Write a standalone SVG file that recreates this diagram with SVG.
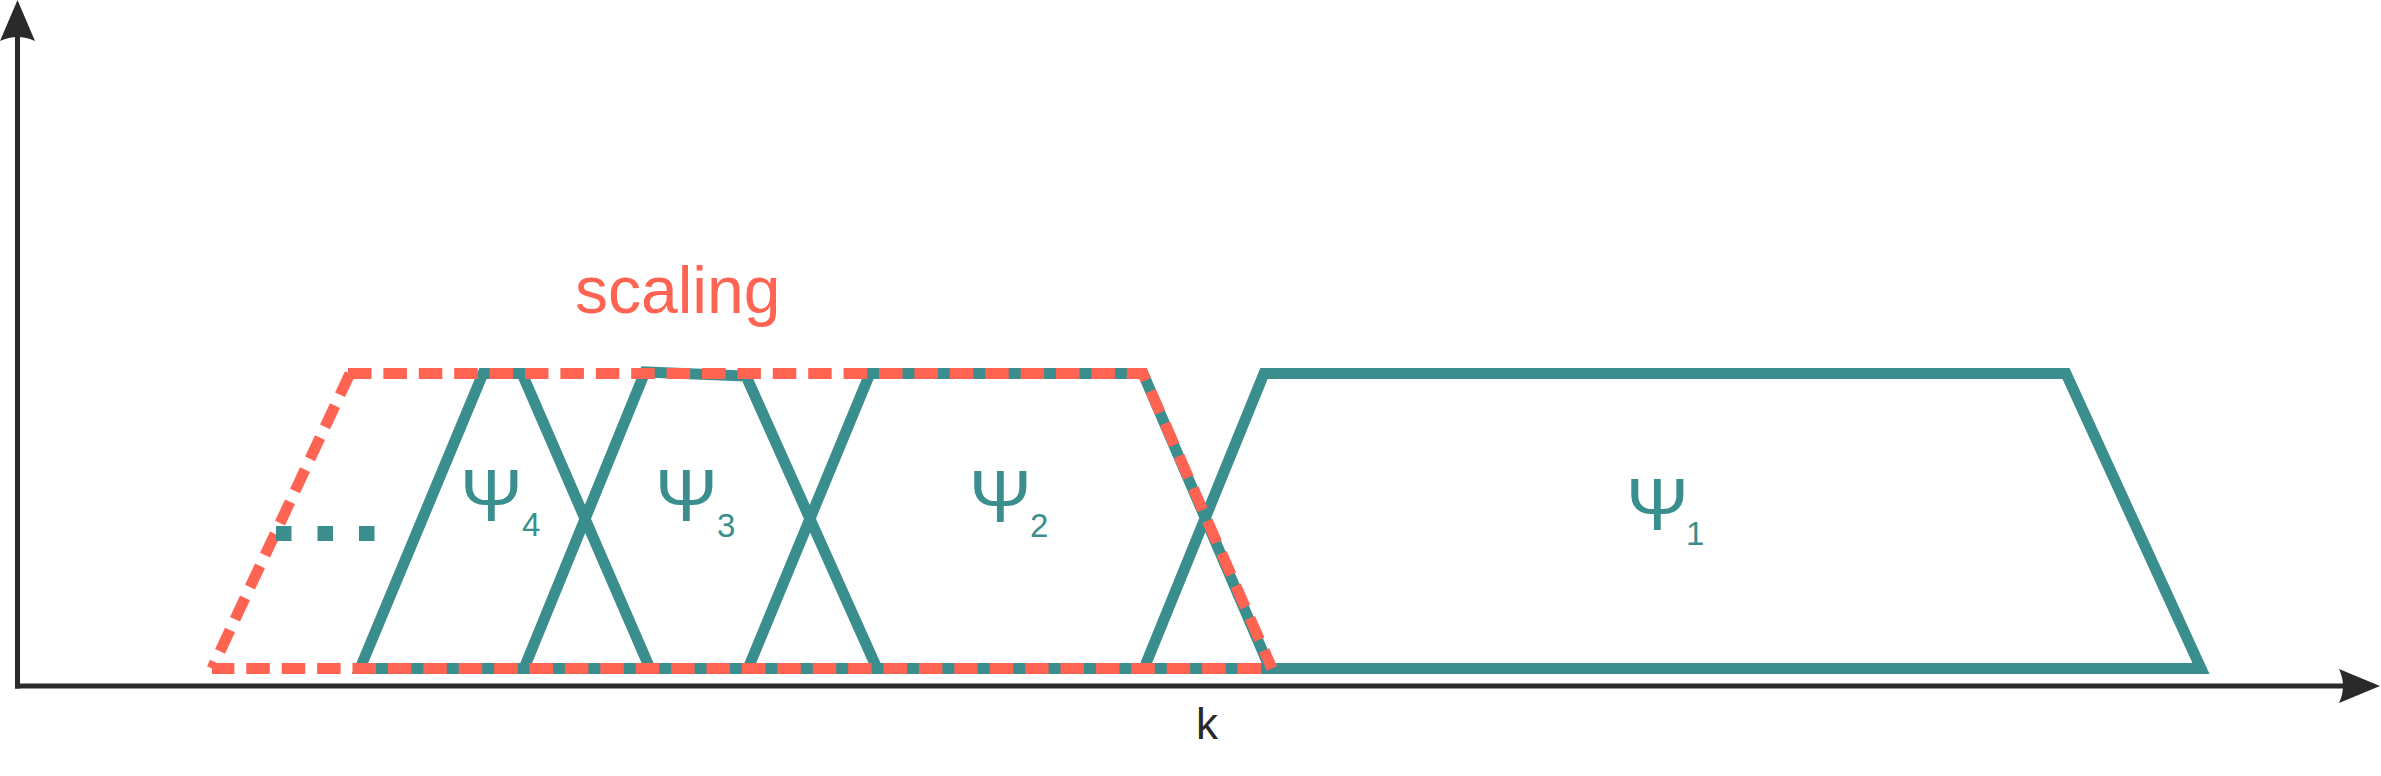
<svg xmlns="http://www.w3.org/2000/svg" width="2381" height="776" viewBox="0 0 2381 776">
<style>
.teal{fill:none;stroke:#3a8f8e;stroke-width:11;stroke-linejoin:miter;stroke-miterlimit:10}
.red{fill:none;stroke:#ff6352;stroke-width:11;stroke-dasharray:23.5 11.9}
.axis{fill:none;stroke:#2a2a2a;stroke-width:5}
.head{fill:#2a2a2a}
.psi{font-family:"Liberation Sans",Arial,sans-serif;font-size:75px;fill:#3a8f8e}
.sub{font-family:"Liberation Sans",Arial,sans-serif;font-size:33px;fill:#3a8f8e}
</style>
<rect width="2381" height="776" fill="#ffffff"/>
<g id="axes">
<line class="axis" x1="17.5" y1="36" x2="17.5" y2="688.5"/>
<line class="axis" x1="15" y1="686" x2="2344" y2="686"/>
<path class="head" d="M17.5,0 L35,41 Q17.5,33 0,41 Z"/>
<path class="head" d="M2380,686 L2339,703 Q2347,686 2339,669 Z"/>
<text x="1196" y="739" font-family="Liberation Sans, Arial, sans-serif" font-size="44" fill="#2a2a2a">k</text>
</g>
<g id="psi4">
<polygon class="teal" points="360,668.5 483,373.5 522,373.5 650,668.5"/>
<text class="psi" x="460" y="521">Ψ</text><text class="sub" x="522" y="536">4</text>
</g>
<g id="psi3">
<polygon class="teal" points="524,668.5 645,372 746,376 877,668.5"/>
<text class="psi" x="655" y="521">Ψ</text><text class="sub" x="717" y="537">3</text>
</g>
<g id="psi2">
<polygon class="teal" points="748,668.5 870,373.5 1143,373.5 1270,668.5"/>
<text class="psi" x="969" y="522">Ψ</text><text class="sub" x="1030" y="537">2</text>
</g>
<g id="psi1">
<polygon class="teal" points="1144,668.5 1264,373.5 2066,373.5 2201,668.5"/>
<text class="psi" x="1626" y="530">Ψ</text><text class="sub" x="1686" y="545">1</text>
</g>
<g id="scaling">
<path class="red" d="M1272,668.5 L212,668.5" stroke-dashoffset="24.4"/>
<path class="red" d="M350,373.5 L212,668.5"/>
<path class="red" d="M348,373.5 L1143,373.5 L1272,668.5"/>
<line x1="276" y1="533.5" x2="374.5" y2="533.5" stroke="#3a8f8e" stroke-width="15" stroke-dasharray="15.5 26"/>
<text x="575" y="313" font-family="Liberation Sans, Arial, sans-serif" font-size="66" fill="#ff6352">scaling</text>
</g>
</svg>
